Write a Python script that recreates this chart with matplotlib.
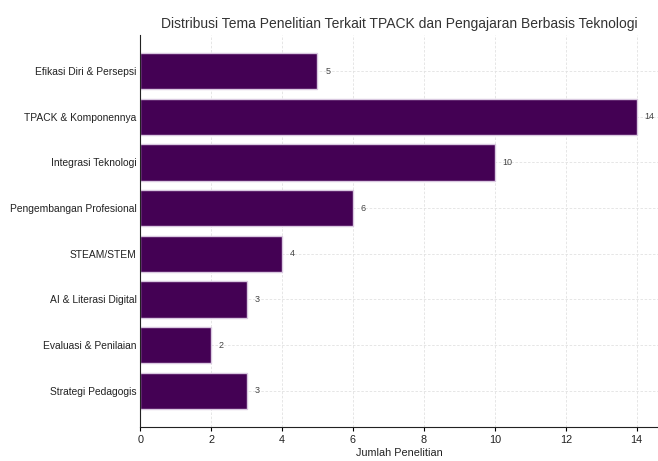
import matplotlib
matplotlib.use("Agg")
import matplotlib.pyplot as plt

# data
themes = [
    "Efikasi Diri & Persepsi",
    "TPACK & Komponennya",
    "Integrasi Teknologi",
    "Pengembangan Profesional",
    "STEAM/STEM",
    "AI & Literasi Digital",
    "Evaluasi & Penilaian",
    "Strategi Pedagogis",
]
counts = [5, 14, 10, 6, 4, 3, 2, 3]

plt.rcParams["font.family"] = ["Liberation Sans", "DejaVu Sans"]

fig = plt.figure(figsize=(6.58, 4.61), dpi=100)
ax = fig.add_axes([0.213, 0.074, 0.787, 0.85])

ypos = list(range(len(themes)))
ax.barh(ypos, counts, height=0.8, color="#440154", edgecolor="#d9c8e0", linewidth=1, zorder=2)
ax.invert_yaxis()
ax.set_xlim(0, 14.6)
ax.set_yticks(ypos)
ax.set_yticklabels(themes, fontsize=7.4, color="#222222")
ax.set_xticks(range(0, 15, 2))
ax.tick_params(axis="x", labelsize=7.8, labelcolor="#222222", length=3, pad=3)
ax.tick_params(axis="y", length=0, pad=2.5)

for y, c in zip(ypos, counts):
    ax.text(c + 0.22, y, str(c), va="center", ha="left", fontsize=6.5, color="#444444")

ax.grid(True, linestyle=(0, (3, 2)), color="#e2e2e2", linewidth=0.6, zorder=0)
ax.set_axisbelow(True)
for s in ["top", "right"]:
    ax.spines[s].set_visible(False)
ax.spines["left"].set_color("#222222")
ax.spines["bottom"].set_color("#222222")

ax.set_xlabel("Jumlah Penelitian", fontsize=7.8, color="#222222", labelpad=2)
ax.set_title("Distribusi Tema Penelitian Terkait TPACK dan Pengajaran Berbasis Teknologi",
             fontsize=10, color="#333333", pad=5)

fig.savefig("out.png", dpi=100)
